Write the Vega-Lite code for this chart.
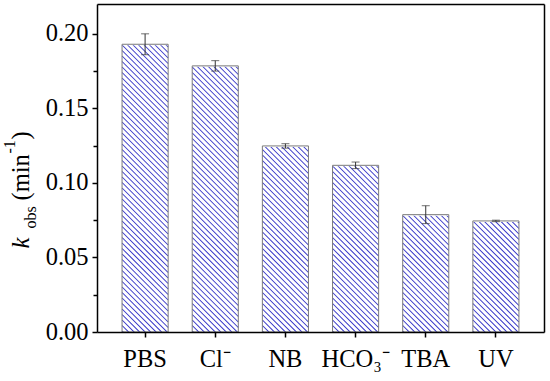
{
  "$schema": "https://vega.github.io/schema/vega-lite/v6.json",
  "width": 447,
  "height": 328,
  "autosize": "none",
  "padding": {"left": 97, "top": 4, "right": 6, "bottom": 49},
  "background": "white",
  "config": {
    "view": {"stroke": null},
    "font": "Liberation Serif",
    "axis": {"labelFont": "Liberation Serif", "titleFont": "Liberation Serif", "labelColor": "black", "titleColor": "black", "tickColor": "black", "domainColor": "black", "grid": false, "titleFontWeight": "normal"}
  },
  "data": {
    "values": [
      {"cat": "PBS", "k": 0.193, "sd": 0.007},
      {"cat": "Cl⁻", "k": 0.1785, "sd": 0.0035},
      {"cat": "NB", "k": 0.1248, "sd": 0.0015},
      {"cat": "HCO₃⁻", "k": 0.1118, "sd": 0.0022},
      {"cat": "TBA", "k": 0.0787, "sd": 0.006},
      {"cat": "UV", "k": 0.0745, "sd": 0.0005}
    ]
  },
  "resolve": {"axis": {"x": "independent", "y": "independent"}},
  "layer": [
    {
      "mark": {
        "type": "point",
        "shape": "M-23,-1L23,45M-23,-6.5L23,39.5M-23,-12L23,34M-23,-17.5L23,28.5M-23,-23L23,23M-23,-28.5L23,17.5M-23,-34L23,12M-23,-39.5L23,6.5M-23,-45L23,1M-23,-50.5L23,-4.5M-23,-56L23,-10M-23,-61.5L23,-15.5M-23,-67L23,-21M-23,-72.5L23,-26.5M-23,-78L23,-32M-23,-83.5L23,-37.5M-23,-89L23,-43M-23,-94.5L23,-48.5M-23,-100L23,-54M-23,-105.5L23,-59.5M-23,-111L23,-65M-23,-116.5L23,-70.5M-23,-122L23,-76M-23,-127.5L23,-81.5M-23,-133L23,-87M-23,-138.5L23,-92.5M-23,-144L23,-98M-23,-149.5L23,-103.5M-23,-155L23,-109M-23,-160.5L23,-114.5M-23,-166L23,-120M-23,-171.5L23,-125.5M-23,-177L23,-131M-23,-182.5L23,-136.5M-23,-188L23,-142M-23,-193.5L23,-147.5M-23,-199L23,-153M-23,-204.5L23,-158.5M-23,-210L23,-164M-23,-215.5L23,-169.5M-23,-221L23,-175M-23,-226.5L23,-180.5M-23,-232L23,-186M-23,-237.5L23,-191.5M-23,-243L23,-197M-23,-248.5L23,-202.5M-23,-254L23,-208M-23,-259.5L23,-213.5M-23,-265L23,-219M-23,-270.5L23,-224.5M-23,-276L23,-230M-23,-281.5L23,-235.5M-23,-287L23,-241M-23,-292.5L23,-246.5M-23,-298L23,-252M-23,-303.5L23,-257.5M-23,-309L23,-263M-23,-314.5L23,-268.5M-23,-320L23,-274M-23,-325.5L23,-279.5M-23,-331L23,-285M-23,-336.5L23,-290.5M-23,-342L23,-296",
        "size": 4,
        "filled": false,
        "color": "#3636c8",
        "stroke": "#3636c8",
        "strokeWidth": 1.05,
        "opacity": 1,
        "clip": true
      },
      "encoding": {
        "x": {
          "field": "cat", "type": "nominal", "sort": null,
          "scale": {"type": "band", "paddingInner": 0.343, "paddingOuter": 0.357},
          "axis": {"orient": "bottom", "title": null, "labelAngle": 0, "labelFontSize": 24.5, "labelPadding": 10.5, "tickSize": 5, "tickWidth": 1.5, "domainWidth": 1.5, "zindex": 1}
        },
        "y": {
          "datum": 0, "type": "quantitative",
          "scale": {"domain": [0, 0.22], "nice": false, "zero": true},
          "axis": {"orient": "left", "values": [0, 0.05, 0.1, 0.15, 0.2], "format": ".2f", "labelFontSize": 24.5, "labelPadding": 4, "tickSize": 5, "tickWidth": 1.5, "domainWidth": 1.5, "zindex": 1,
            "title": "k", "titleFontSize": 24.5, "titleFontStyle": "italic", "titleAngle": 270, "titleX": -69, "titleY": 244, "titleAlign": "left", "titleBaseline": "alphabetic"}
        }
      }
    },
    {
      "mark": {"type": "bar", "fill": "white", "stroke": "white", "strokeWidth": 2, "clip": true},
      "encoding": {
        "x": {"field": "cat", "type": "nominal", "sort": null,
          "axis": {"orient": "top", "title": null, "labels": false, "ticks": false, "domain": true, "domainWidth": 1.5, "zindex": 1}},
        "y": {"field": "k", "type": "quantitative",
          "axis": {"orient": "right", "labels": false, "ticks": false, "domain": true, "domainWidth": 1.5, "zindex": 1,
            "title": "(min", "titleFontSize": 24.5, "titleAngle": 270, "titleX": -516, "titleY": 196, "titleAlign": "left", "titleBaseline": "alphabetic"}},
        "y2": {"datum": 0.22}
      }
    },
    {
      "mark": {"type": "bar", "fillOpacity": 0, "stroke": "#7a7a7a", "strokeWidth": 1},
      "encoding": {
        "x": {"field": "cat", "type": "nominal", "sort": null,
          "axis": {"orient": "bottom", "labels": false, "ticks": false, "domain": false, "zindex": 1,
            "title": "-1", "titleFontSize": 16, "titleAngle": 270, "titleX": -82.5, "titleY": -179, "titleAlign": "left", "titleBaseline": "alphabetic"}},
        "y": {"field": "k", "type": "quantitative",
          "axis": {"orient": "left", "values": [0.025, 0.075, 0.125, 0.175], "labels": false, "domain": false, "tickSize": 4, "tickWidth": 1.5, "zindex": 1,
            "title": "obs", "titleFontSize": 16, "titleAngle": 270, "titleX": -62, "titleY": 224, "titleAlign": "left", "titleBaseline": "alphabetic"}}
      }
    },
    {
      "mark": {"type": "errorbar", "ticks": true, "size": 8, "thickness": 1, "color": "#333333"},
      "encoding": {
        "x": {"field": "cat", "type": "nominal", "sort": null,
          "axis": {"orient": "bottom", "labels": false, "ticks": false, "domain": false, "zindex": 1,
            "title": ")", "titleFontSize": 24.5, "titleAngle": 270, "titleX": -69, "titleY": -193, "titleAlign": "left", "titleBaseline": "alphabetic"}},
        "y": {"field": "k", "type": "quantitative", "axis": null},
        "yError": {"field": "sd"}
      }
    }
  ]
}
